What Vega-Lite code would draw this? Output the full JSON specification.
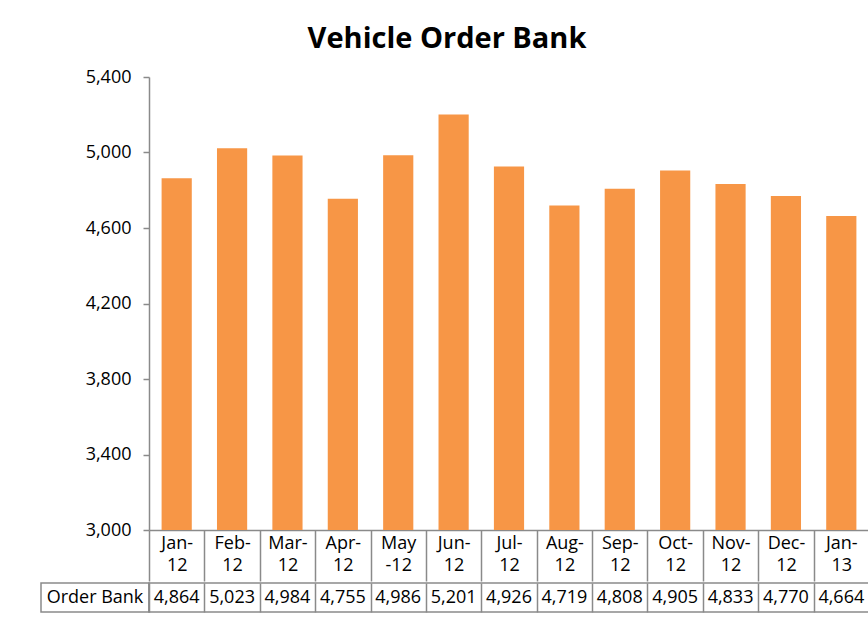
{
  "$schema": "https://vega.github.io/schema/vega-lite/v6.json",
  "padding": {"left": 40, "top": 25, "right": 0, "bottom": 0},
  "background": "white",
  "title": {"text": "Vehicle Order Bank", "fontSize": 29, "font": "Open Sans", "fontWeight": "bold", "color": "#000000", "anchor": "middle", "dx": -8, "offset": 14},
  "datasets": {
    "orders": [
      {"month": "Jan-12", "order_bank": 4864},
      {"month": "Feb-12", "order_bank": 5023},
      {"month": "Mar-12", "order_bank": 4984},
      {"month": "Apr-12", "order_bank": 4755},
      {"month": "May-12", "order_bank": 4986},
      {"month": "Jun-12", "order_bank": 5201},
      {"month": "Jul-12", "order_bank": 4926},
      {"month": "Aug-12", "order_bank": 4719},
      {"month": "Sep-12", "order_bank": 4808},
      {"month": "Oct-12", "order_bank": 4905},
      {"month": "Nov-12", "order_bank": 4833},
      {"month": "Dec-12", "order_bank": 4770},
      {"month": "Jan-13", "order_bank": 4664}
    ]
  },
  "vconcat": [
    {
      "hconcat": [
        {
          "width": 108, "height": 453,
          "data": {"values": []},
          "mark": "point",
          "view": {"stroke": null}
        },
        {
          "width": 720, "height": 453,
          "data": {"name": "orders"},
          "mark": {"type": "bar", "color": "#F79646", "width": {"band": 0.545}, "clip": true},
          "encoding": {
            "x": {
              "field": "month", "type": "nominal", "sort": null,
              "scale": {"paddingInner": 0, "paddingOuter": 0},
              "axis": {
                "title": null, "orient": "bottom", "tickBand": "extent", "tickSize": 51,
                "tickColor": "#8a8a8a", "domainColor": "#8a8a8a", "tickWidth": 1.5, "domainWidth": 1.5, "labelAngle": 0,
                "labelPadding": -47, "labelFontSize": 18, "labelFont": "Open Sans", "labelColor": "#000000",
                "labelLineHeight": 22, "labelBaseline": "top",
                "labelExpr": "datum.label == 'May-12' ? ['May', '-12'] : [slice(datum.label, 0, 4), slice(datum.label, 4)]"
              }
            },
            "y": {
              "field": "order_bank", "type": "quantitative",
              "scale": {"domain": [3000, 5400], "nice": false, "zero": false},
              "axis": {
                "title": null, "values": [3000, 3400, 3800, 4200, 4600, 5000, 5400], "format": ",d",
                "grid": false, "tickSize": 6, "tickColor": "#8a8a8a", "domainColor": "#8a8a8a", "tickWidth": 1.5, "domainWidth": 1.5,
                "labelPadding": 12, "labelFontSize": 18, "labelFont": "Open Sans", "labelColor": "#000000"
              }
            }
          },
          "view": {"stroke": null}
        }
      ],
      "spacing": 0,
      "bounds": "flush"
    },
    {
      "hconcat": [
        {
          "width": 108, "height": 29,
          "data": {"values": [{"label": "Order Bank"}]},
          "mark": {"type": "text", "fontSize": 18, "font": "Open Sans", "color": "#000000"},
          "encoding": {"text": {"field": "label"}},
          "view": {"stroke": "#8a8a8a", "strokeWidth": 1.5}
        },
        {
          "width": 720, "height": 29,
          "data": {"name": "orders"},
          "mark": {"type": "text", "fontSize": 18, "font": "Open Sans", "color": "#000000"},
          "encoding": {
            "x": {
              "field": "month", "type": "nominal", "sort": null,
              "scale": {"paddingInner": 0, "paddingOuter": 0},
              "axis": {"title": null, "labels": false, "ticks": false, "domain": false, "grid": true, "tickBand": "extent", "gridColor": "#8a8a8a", "gridOpacity": 1, "gridWidth": 1.5}
            },
            "text": {"field": "order_bank", "type": "quantitative", "format": ",d"}
          },
          "view": {"stroke": "#8a8a8a", "strokeWidth": 1.5}
        }
      ],
      "spacing": 0,
      "bounds": "flush"
    }
  ],
  "spacing": 0
}
